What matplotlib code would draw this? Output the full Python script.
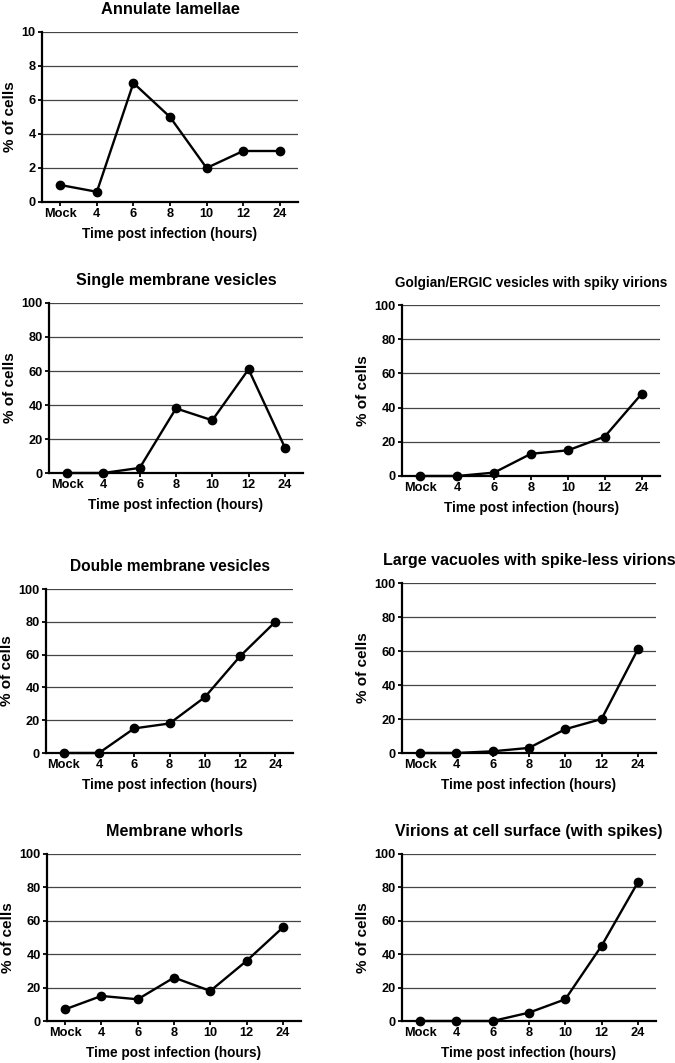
import matplotlib.pyplot as plt

plt.rcParams['font.family'] = ['Liberation Sans', 'DejaVu Sans']
plt.rcParams['font.weight'] = 'bold'

categories = ["Mock", "4", "6", "8", "10", "12", "24"]

annulate = [1, 0.6, 7, 5, 2, 3, 3]
single_membrane = [0, 0, 3, 38, 31, 61, 15]
golgian = [0, 0, 2, 13, 15, 23, 48]
double_membrane = [0, 0, 15, 18, 34, 59, 80]
large_vacuoles = [0, 0, 1, 3, 14, 20, 61]
whorls = [7, 15, 13, 26, 18, 36, 56]
virions = [0, 0, 0, 5, 13, 45, 83]

W, H = 675, 1063

# (left, top, right, bottom) in pixels, title, data, ymax, title size
panels = [
    ((42, 32, 298, 202), "Annulate lamellae", annulate, 10, 11.8),
    ((49, 303, 303, 473), "Single membrane vesicles", single_membrane, 100, 11.5),
    ((402, 305, 660, 476), "Golgian/ERGIC vesicles with spiky virions", golgian, 100, 9.8),
    ((46, 589, 293, 753), "Double membrane vesicles", double_membrane, 100, 11.2),
    ((402, 583, 656, 753), "Large vacuoles with spike-less virions", large_vacuoles, 100, 11.5),
    ((47, 854, 301, 1021), "Membrane whorls", whorls, 100, 11.6),
    ((402, 854, 656, 1021), "Virions at cell surface (with spikes)", virions, 100, 11.5),
]

fig = plt.figure(figsize=(W / 100, H / 100), dpi=100)

for (l, t, r, b), title, vals, ymax, tsize in panels:
    ax = fig.add_axes([l / W, 1 - b / H, (r - l) / W, (b - t) / H])
    x = range(len(categories))
    ax.plot(x, vals, color='black', lw=1.7, marker='o', ms=6, clip_on=False, zorder=3)
    ax.set_xlim(-0.5, 6.5)
    ax.set_ylim(0, ymax)
    step = ymax / 5
    ax.set_yticks([step * i for i in range(6)])
    ax.set_yticklabels([f"{int(step * i)}" for i in range(6)])
    ax.set_xticks(list(x))
    ax.set_xticklabels(categories)
    ax.yaxis.grid(True, color='#444444', lw=0.9)
    ax.set_axisbelow(True)
    for s in ['top', 'right']:
        ax.spines[s].set_visible(False)
    for s in ['left', 'bottom']:
        ax.spines[s].set_linewidth(1.6)
    ax.tick_params(axis='both', labelsize=9.2, width=1.3, length=3, pad=1.5)
    ax.set_title(title, fontsize=tsize, fontweight='bold', pad=13)
    ax.set_xlabel("Time post infection (hours)", fontsize=9.8, fontweight='bold', labelpad=5)
    ax.set_ylabel("% of cells", fontsize=11, fontweight='bold', labelpad=3)

fig.savefig("out.png", dpi=100)
